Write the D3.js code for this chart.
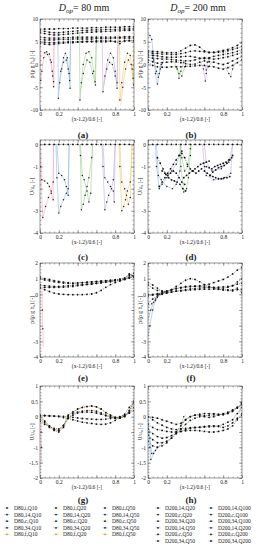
<!DOCTYPE html>
<html>
<head>
<meta charset="utf-8">
<script src="https://cdn.jsdelivr.net/npm/d3@7"></script>
<style>
  body { margin: 0; background: #fff; }
  svg { display: block; }
  text { font-family: "Liberation Serif", "DejaVu Serif", serif; fill: #222; }
</style>
</head>
<body>
<svg id="chart" width="262" height="550"></svg>
<script>
// ---- data ----
const xGrid = [0,0.05,0.1,0.15,0.2,0.25,0.3,0.35,0.4,0.45,0.5,0.55,0.6,0.65,0.7,0.75,0.8,0.85,0.9,0.95,1];

// (a) D80 pressure, dotted measured series on xGrid
const dotsA = [
  [7.7,7.8,7.8,7.8,7.9,7.9,7.9,8.0,8.0,8.0,8.0,8.1,8.1,8.1,8.2,8.2,8.2,8.2,8.3,8.3,8.3],
  [7.4,7.3,7.1,7.0,7.0,7.1,7.2,7.3,7.4,7.5,7.5,7.6,7.6,7.6,7.7,7.7,7.7,7.8,7.8,7.8,7.9],
  [7.0,6.8,6.6,6.5,6.5,6.6,6.7,6.8,6.9,7.0,7.1,7.1,7.2,7.2,7.3,7.3,7.4,7.4,7.5,7.5,7.6],
  [6.0,5.9,5.8,5.8,5.8,5.9,5.9,6.0,6.0,6.0,6.0,6.0,6.0,6.0,6.0,6.0,6.0,6.0,6.1,6.1,6.1],
  [5.5,5.4,5.4,5.4,5.5,5.5,5.5,5.6,5.6,5.6,5.6,5.6,5.7,5.7,5.7,5.7,5.8,5.8,5.8,5.8,5.8],
  [5.0,4.9,4.8,4.8,4.9,4.9,5.0,5.0,5.0,5.1,5.1,5.1,5.2,5.2,5.2,5.2,5.0,4.6,5.3,5.3,5.3],
  [4.6,4.5,4.4,4.5,4.6,4.7,4.8,4.8,4.9,4.9,5.0,5.0,5.0,5.0,5.0,5.1,5.1,5.1,5.1,5.2,5.2]
];
const linesA = [
  { s: "i",  pts: [[0.005,7.5],[0.008,-3.5],[0.02,-1.5],[0.04,1.5],[0.07,2.8],[0.1,2.3],[0.12,0.5],[0.135,-2.5],[0.145,-4.9],[0.15,6]] },
  { s: "i",  pts: [[0.02,2.0],[0.05,2.6],[0.08,2.2],[0.11,1.0],[0.13,-1.5],[0.145,-3.8],[0.15,7.2]] },
  { s: "14", pts: [[0.19,7.0],[0.195,-7.4],[0.21,-4.0],[0.23,-1.0],[0.25,1.5],[0.27,2.5],[0.29,1.5],[0.31,-2.0],[0.32,-5.2],[0.325,5.0]] },
  { s: "14", pts: [[0.2,-5.5],[0.22,-1.5],[0.25,0.5],[0.28,1.0],[0.3,-1.0],[0.315,-3.5],[0.325,6.0]] },
  { s: "c",  pts: [[0.42,7.2],[0.425,-7.8],[0.44,-4.0],[0.46,0.0],[0.49,2.5],[0.52,2.8],[0.55,1.5],[0.57,-1.5],[0.59,-4.5],[0.6,5.5]] },
  { s: "c",  pts: [[0.43,-6.0],[0.46,-2.0],[0.5,1.0],[0.53,0.5],[0.56,-2.0],[0.585,-3.8],[0.6,6.5]] },
  { s: "34", pts: [[0.66,7.0],[0.67,-6.0],[0.69,-2.5],[0.72,1.0],[0.75,2.5],[0.78,1.5],[0.8,-1.5],[0.82,-5.2],[0.83,5.5]] },
  { s: "34", pts: [[0.68,-4.5],[0.71,-1.0],[0.74,0.5],[0.77,0.0],[0.8,-2.5],[0.82,-4.0],[0.83,6.5]] },
  { s: "f",  pts: [[0.845,7.0],[0.85,-7.8],[0.87,-4.0],[0.9,0.5],[0.93,2.5],[0.96,2.0],[0.98,-1.0],[0.995,-4.5],[1.0,5.5]] },
  { s: "f",  pts: [[0.86,-9.0],[0.88,-5.0],[0.91,-1.0],[0.94,1.0],[0.97,0.0],[0.99,-3.0],[1.0,6.0]] }
];

// (b) D200 pressure
const dotsB = [
  [3.0,2.9,2.8,2.7,2.6,2.6,2.6,3.0,3.6,4.2,4.3,3.8,3.0,2.6,2.7,2.9,3.1,3.3,3.7,4.2,4.8],
  [2.6,2.5,2.4,2.3,2.3,2.2,2.2,2.4,2.6,2.9,3.0,2.9,2.8,2.7,2.6,2.7,2.8,3.0,3.3,3.6,4.0],
  [2.1,2.0,1.9,1.7,1.6,1.6,1.6,1.7,1.8,1.8,1.6,1.4,1.3,1.5,1.8,2.0,2.2,2.4,2.6,2.9,3.3],
  [1.6,1.4,1.3,1.2,1.2,1.1,1.0,0.9,0.8,0.8,1.0,1.3,1.5,1.3,1.2,1.3,1.5,1.7,2.0,2.3,2.6],
  [1.0,0.6,0.3,0.4,0.5,0.6,0.6,0.4,0.2,0.0,0.1,0.5,0.8,0.6,0.5,0.2,0.0,0.3,0.8,1.3,1.8],
  [0.5,-0.2,-0.5,-0.6,-0.6,-0.5,-0.5,-0.5,-0.4,-0.4,-0.3,-0.2,-0.2,-0.4,-0.5,-0.8,-1.0,-0.7,-0.2,0.4,1.0]
];
const linesB = [
  { s: "14", pts: [[0,6.6],[0.02,6.4],[0.04,5.5],[0.06,2.0],[0.08,-2.0],[0.1,-4.3],[0.12,-2.0],[0.14,0.0],[0.17,1.0]] },
  { s: "14", pts: [[0.03,3.0],[0.06,1.0],[0.09,-1.5],[0.11,-2.8],[0.13,-1.0],[0.16,0.5]] },
  { s: "c",  pts: [[0.28,0.5],[0.31,-1.0],[0.33,-3.0],[0.35,-1.5],[0.38,0.5],[0.42,1.0]] },
  { s: "c",  pts: [[0.3,-0.2],[0.33,-2.0],[0.36,-2.5],[0.39,-0.5],[0.42,0.2]] },
  { s: "34", pts: [[0.56,0.5],[0.59,-1.0],[0.61,-3.6],[0.62,-2.0],[0.63,0.5],[0.66,1.5]] },
  { s: "34", pts: [[0.6,0.2],[0.62,-1.2],[0.64,-0.5],[0.68,0.5]] },
  { s: "34", pts: [[0.82,-0.5],[0.86,-2.0],[0.88,-2.7],[0.9,-1.0],[0.93,0.5]] }
];

// (c) D80 velocity
const dotsC = [
  [0,0,0,0,0,0,0,0,0,0,0,0,0,0,0,0,0,0,0,0,0]
];
const linesC = [
  { s: "i",  pts: [[0.0,0],[0.005,-1.0],[0.03,-3.3],[0.06,-2.8],[0.09,-2.4],[0.12,-2.1],[0.14,-1.7],[0.145,0]] },
  { s: "i",  pts: [[0.005,0],[0.02,-1.6],[0.05,-1.65],[0.08,-1.75],[0.1,-1.9],[0.12,-2.2],[0.14,-2.5],[0.145,0]] },
  { s: "14", pts: [[0.17,0],[0.18,-1.5],[0.2,-3.1],[0.22,-2.8],[0.25,-2.5],[0.28,-2.2],[0.3,-2.0],[0.31,0]] },
  { s: "14", pts: [[0.18,0],[0.2,-1.3],[0.23,-1.4],[0.26,-1.6],[0.28,-1.9],[0.3,-2.3],[0.31,0]] },
  { s: "c",  pts: [[0.42,0],[0.43,-0.5],[0.44,-2.95],[0.46,-2.7],[0.48,-2.3],[0.5,-1.9],[0.52,-1.5],[0.55,-0.6],[0.56,0]] },
  { s: "c",  pts: [[0.43,0],[0.45,-1.4],[0.47,-1.6],[0.5,-2.1],[0.52,-2.6],[0.54,-2.2],[0.56,0]] },
  { s: "34", pts: [[0.66,0],[0.67,-1.0],[0.69,-2.95],[0.71,-2.6],[0.73,-2.3],[0.76,-2.0],[0.78,-1.6],[0.8,0]] },
  { s: "34", pts: [[0.67,0],[0.69,-1.5],[0.72,-1.7],[0.75,-1.9],[0.78,-2.1],[0.79,-2.6],[0.8,0]] },
  { s: "f",  pts: [[0.84,0],[0.85,-1.0],[0.87,-3.0],[0.89,-2.8],[0.91,-2.5],[0.93,-2.1],[0.96,-1.7],[0.98,0]] },
  { s: "f",  pts: [[0.85,0],[0.87,-1.7],[0.9,-2.0],[0.92,-2.3],[0.94,-2.7],[0.96,-2.4],[0.98,0]] }
];

// (d) D200 velocity
const dotsD = [
  [0,0,0,0,0,0,0,0,0,0,0,0,0,0,0,0,0,0,0,0,0],
  [[0.1,-0.6],[0.13,-0.85],[0.16,-1.1],[0.19,-1.35],[0.22,-1.5],[0.25,-1.6],[0.28,-1.65],[0.31,-1.7],[0.34,-1.8],[0.37,-2.0],[0.4,-2.1]],
  [[0.12,-1.9],[0.15,-1.7],[0.18,-1.5],[0.21,-1.3],[0.24,-1.1],[0.27,-0.9],[0.3,-0.7],[0.33,-0.5],[0.36,-0.3]],
  [[0.15,-1.2],[0.18,-1.3],[0.21,-1.4],[0.24,-1.3],[0.27,-1.2],[0.3,-1.3],[0.33,-1.5],[0.36,-1.7],[0.39,-1.8]],
  [[0.38,-1.5],[0.41,-1.4],[0.44,-1.3],[0.47,-1.2],[0.5,-1.1],[0.53,-1.0],[0.56,-0.9],[0.59,-0.85],[0.62,-0.8],[0.65,-0.75]],
  [[0.36,-0.4],[0.39,-0.6],[0.42,-0.9],[0.45,-1.1],[0.48,-1.2],[0.51,-1.3],[0.54,-1.2],[0.57,-1.1]],
  [[0.6,-1.2],[0.63,-1.3],[0.66,-1.4],[0.69,-1.45],[0.72,-1.5],[0.75,-1.55],[0.78,-1.55],[0.81,-1.5],[0.84,-1.5],[0.87,-1.45]],
  [[0.62,-1.0],[0.65,-1.05],[0.68,-1.1],[0.71,-1.0],[0.74,-0.95],[0.77,-0.9],[0.8,-0.85],[0.83,-0.8],[0.86,-0.7],[0.89,-0.6]],
  [[0.66,-1.4],[0.69,-1.25],[0.72,-1.15],[0.75,-1.05],[0.78,-1.0],[0.81,-0.95],[0.84,-0.85],[0.87,-0.7],[0.9,-0.5]]
];
const linesD = [
  { s: "14", pts: [[0.08,0],[0.09,-1.0],[0.12,-2.0],[0.15,-1.8],[0.2,-1.5],[0.25,-1.2],[0.3,-0.9],[0.34,-0.5],[0.35,0]] },
  { s: "14", pts: [[0.09,0],[0.11,-1.4],[0.14,-1.6],[0.2,-1.9],[0.26,-2.0],[0.3,-1.8],[0.34,-1.2],[0.35,0]] },
  { s: "c",  pts: [[0.34,0],[0.35,-1.0],[0.38,-2.15],[0.41,-2.0],[0.43,-1.5],[0.45,-0.5],[0.46,0]] },
  { s: "c",  pts: [[0.34,0],[0.36,-0.6],[0.39,-1.2],[0.42,-1.0],[0.45,-0.2],[0.46,0]] },
  { s: "34", pts: [[0.58,0],[0.6,-1.0],[0.62,-1.4],[0.7,-1.6],[0.8,-1.55],[0.88,-1.3],[0.9,0]] },
  { s: "34", pts: [[0.6,0],[0.62,-0.8],[0.68,-1.2],[0.78,-1.1],[0.86,-0.8],[0.9,0]] }
];

// (e) D80 pressure, second case
const dotsE = [
  [1.1,1.0,0.95,0.88,0.82,0.78,0.74,0.72,0.73,0.75,0.78,0.8,0.82,0.85,0.88,0.9,0.93,0.97,1.05,1.3,1.1],
  [1.0,0.92,0.86,0.8,0.76,0.72,0.7,0.7,0.72,0.74,0.76,0.78,0.8,0.82,0.85,0.88,0.92,0.96,1.0,1.2,1.35],
  [0.6,0.55,0.52,0.5,0.5,0.52,0.55,0.58,0.6,0.62,0.65,0.68,0.7,0.74,0.78,0.82,0.86,0.9,0.95,1.05,1.15],
  [0.45,0.45,0.44,0.44,0.45,0.46,0.48,0.5,0.55,0.58,0.62,0.65,0.7,0.74,0.78,0.82,0.88,0.92,0.98,1.1,1.2],
  [0.4,0.3,0.18,0.08,0.02,0.0,-0.02,-0.02,-0.02,-0.02,0.0,0.02,0.1,0.25,0.45,0.62,0.75,0.85,0.95,1.05,1.1]
];
const linesE = [
  { s: "i", pts: [[0.02,0.2],[0.025,-1.0],[0.03,-2.2],[0.035,-3.4]] },
  { s: "f", pts: [[0.9,1.0],[0.95,1.3],[0.98,1.2],[1.0,1.1]] }
];

// (f) D200 pressure, second case
const dotsF = [
  [0.75,0.6,0.4,0.2,0.15,0.3,0.5,0.7,0.9,1.0,0.95,0.8,0.62,0.5,0.4,0.33,0.28,0.25,0.22,0.4,0.1],
  [0.0,0.0,0.05,0.1,0.2,0.28,0.35,0.4,0.45,0.48,0.52,0.55,0.6,0.65,0.75,0.85,0.95,1.1,1.3,1.55,1.7],
  [0.6,0.4,0.25,0.2,0.22,0.3,0.38,0.45,0.5,0.52,0.52,0.5,0.48,0.45,0.42,0.4,0.4,0.45,0.55,0.8,1.0],
  [-0.1,-0.05,0.0,0.05,0.1,0.15,0.2,0.22,0.25,0.28,0.3,0.32,0.33,0.33,0.33,0.32,0.3,0.28,0.28,0.3,0.3],
  [-0.6,-0.3,-0.1,0.0,0.08,0.15,0.2,0.25,0.3,0.35,0.38,0.4,0.42,0.44,0.45,0.46,0.48,0.5,0.55,0.65,0.7]
];
const linesF = [
  { s: "14", pts: [[0,-2.7],[0.02,-2.0],[0.05,-1.0],[0.08,-0.4],[0.12,0.0],[0.18,0.15],[0.25,0.25]] },
  { s: "14", pts: [[0,-1.6],[0.03,-1.0],[0.06,-0.5],[0.1,-0.2],[0.15,0.05],[0.2,0.15]] },
  { s: "14", pts: [[0,-0.8],[0.04,-0.6],[0.08,-0.3],[0.12,0.0],[0.18,0.1]] }
];

// (g) D80 velocity, second case
const dotsG = [
  [0.0,-0.15,-0.3,-0.42,-0.45,-0.3,0.05,0.15,0.25,0.3,0.33,0.35,0.32,0.25,0.13,0.05,-0.02,-0.03,0.02,0.2,0.5],
  [-0.08,-0.2,-0.35,-0.45,-0.5,-0.35,-0.05,0.1,0.15,0.18,0.2,0.2,0.18,0.12,0.05,0.0,-0.05,-0.05,0.0,0.15,0.45],
  [0.05,0.04,0.03,0.02,0.0,-0.03,-0.06,-0.1,-0.14,-0.18,-0.2,-0.22,-0.24,-0.25,-0.24,-0.2,-0.12,-0.02,0.08,0.3,0.5],
  [0.03,0.03,0.02,0.02,0.02,0.01,0.0,-0.02,-0.04,-0.06,-0.07,-0.08,-0.09,-0.09,-0.08,-0.06,-0.03,0.0,0.05,0.12,0.2],
  [-0.15,-0.25,-0.32,-0.38,-0.4,-0.28,-0.05,0.05,0.12,0.14,0.15,0.14,0.12,0.08,0.03,-0.02,-0.05,-0.04,0.02,0.12,0.3]
];
const linesG = [
  { s: "i", pts: [[0.01,0.0],[0.012,-0.5],[0.015,-1.0],[0.02,-1.55]] },
  { s: "f", pts: [[0,0.0],[0.05,-0.15],[0.1,-0.3],[0.15,-0.42],[0.2,-0.45],[0.25,-0.3],[0.3,0.05],[0.35,0.15],[0.4,0.25],[0.45,0.3],[0.5,0.33],[0.55,0.35],[0.6,0.32],[0.65,0.25],[0.7,0.13],[0.75,0.05],[0.8,-0.02],[0.85,-0.03],[0.9,0.02],[0.95,0.2],[1,0.5]] }
];

// (h) D200 velocity, second case
const dotsH = [
  [0.0,-0.02,-0.05,-0.1,-0.15,-0.2,-0.25,-0.22,-0.1,0.0,0.05,0.08,0.1,0.1,0.1,0.08,0.06,0.1,0.17,0.28,0.4],
  [0.0,-0.1,-0.2,-0.28,-0.35,-0.4,-0.42,-0.4,-0.38,-0.36,-0.35,-0.34,-0.32,-0.3,-0.3,-0.32,-0.35,-0.3,-0.2,-0.05,0.1],
  [-0.25,-0.35,-0.42,-0.45,-0.48,-0.5,-0.5,-0.48,-0.46,-0.45,-0.45,-0.46,-0.48,-0.5,-0.5,-0.48,-0.45,-0.4,-0.3,-0.1,0.05],
  [-0.4,-0.55,-0.65,-0.7,-0.68,-0.62,-0.55,-0.48,-0.42,-0.38,-0.36,-0.35,-0.34,-0.33,-0.32,-0.3,-0.25,-0.18,-0.1,0.1,0.3],
  [-0.6,-0.75,-0.85,-0.85,-0.8,-0.7,-0.55,-0.4,-0.25,-0.12,-0.05,0.0,0.03,0.05,0.06,0.06,0.08,0.12,0.2,0.3,0.4],
  [-0.8,-0.95,-1.0,-0.95,-0.85,-0.7,-0.5,-0.3,-0.1,0.0,0.05,0.05,0.0,-0.02,0.0,0.05,0.1,0.15,0.22,0.3,0.45]
];
const linesH = [
  { s: "14", pts: [[0,0],[0.01,-0.5],[0.02,-1.0],[0.03,-1.4],[0.06,-1.2],[0.1,-1.0],[0.15,-0.9]] },
  { s: "14", pts: [[0,-0.2],[0.02,-0.7],[0.04,-1.2],[0.08,-1.1],[0.12,-0.95]] },
  { s: "c",  pts: [[0.33,-0.5],[0.36,-0.2],[0.38,0.0],[0.4,0.05]] },
  { s: "34", pts: [[0.97,0.1],[0.99,0.45],[1.0,0.6]] }
];

// legend columns
const legendD80Q10 = ["D80,i,Q10", "D80,14,Q10", "D80,c,Q10", "D80,34,Q10", "D80,f,Q10"];
const legendD80Q20 = ["D80,i,Q20", "D80,14,Q20", "D80,c,Q20", "D80,34,Q20", "D80,f,Q20"];
const legendD80Q50 = ["D80,i,Q50", "D80,14,Q50", "D80,c,Q50", "D80,34,Q50", "D80,f,Q50"];
const legendD200a = ["D200,14,Q20", "D200,c,Q20", "D200,34,Q20", "D200,14,Q50", "D200,c,Q50", "D200,34,Q50"];
const legendD200b = ["D200,14,Q100", "D200,c,Q100", "D200,34,Q100", "D200,14,Q200", "D200,c,Q200", "D200,34,Q200"];

const xTickLabels = [0, 0.2, 0.8, 1];

// ---- drawing ----
const lineColor = { i: "#f5b3c3", "14": "#9dbde6", c: "#a6d698", "34": "#c6b3e2", f: "#f3cd78" };
const P_LABEL = "p/(\u03c1 g h\u2080) [-]";
const U_LABEL = "U/u\u2080 [-]";

const svg = d3.select("#chart");
const cols = [[40, 134], [148, 242]];

const panels = [
  { tag: "(a)", col: 0, top: 19,  bottom: 110, dom: [-10, 10], major: [-10,-5,0,5,10], hide: [], minor: 1, ylab: P_LABEL, dots: dotsA, lines: linesA, tagY: 138 },
  { tag: "(b)", col: 1, top: 19,  bottom: 110, dom: [-10, 10], major: [-10,-5,0,5,10], hide: [], minor: 1, ylab: P_LABEL, dots: dotsB, lines: linesB, tagY: 138 },
  { tag: "(c)", col: 0, top: 140, bottom: 233, dom: [-4, 0.2], major: [-4,-3,-2,-1,0], hide: [-2], minor: 0.2, ylab: U_LABEL, dots: dotsC, lines: linesC, tagY: 260 },
  { tag: "(d)", col: 1, top: 140, bottom: 233, dom: [-4, 0.2], major: [-4,-3,-2,-1,0], hide: [-2], minor: 0.2, ylab: U_LABEL, dots: dotsD, lines: linesD, tagY: 260 },
  { tag: "(e)", col: 0, top: 263, bottom: 357, dom: [-4, 2], major: [-4,-3,-2,-1,0,1,2], hide: [-1,-2], minor: 0.2, ylab: P_LABEL, dots: dotsE, lines: linesE, tagY: 381 },
  { tag: "(f)", col: 1, top: 263, bottom: 357, dom: [-4, 2], major: [-4,-3,-2,-1,0,1,2], hide: [-1,-2], minor: 0.2, ylab: P_LABEL, dots: dotsF, lines: linesF, tagY: 381 },
  { tag: "(g)", col: 0, top: 386, bottom: 478, dom: [-2, 1], major: [-2,-1.5,-1,-0.5,0,0.5,1], hide: [-0.5], minor: 0.1, ylab: U_LABEL, dots: dotsG, lines: linesG, tagY: 503 },
  { tag: "(h)", col: 1, top: 386, bottom: 478, dom: [-2, 1], major: [-2,-1.5,-1,-0.5,0,0.5,1], hide: [-0.5], minor: 0.1, ylab: U_LABEL, dots: dotsH, lines: linesH, tagY: 503 }
];

// column titles
[["80", 84], ["200", 198]].forEach(([d, cx]) => {
  const t = svg.append("text").attr("x", cx).attr("y", 11).attr("text-anchor", "middle").attr("font-size", 10);
  t.append("tspan").attr("font-style", "italic").text("D");
  t.append("tspan").attr("font-style", "italic").attr("font-size", 7).attr("dy", 2).text("op");
  t.append("tspan").attr("dy", -2).text("= " + d + " mm");
});

const minorTicks = (dom, step) => {
  const out = [];
  for (let v = Math.ceil(dom[0] / step) * step; v <= dom[1] + 1e-9; v += step) out.push(+v.toFixed(4));
  return out;
};

panels.forEach(p => {
  const [xl, xr] = cols[p.col];
  const x = d3.scaleLinear().domain([0, 1]).range([xl, xr]);
  const y = d3.scaleLinear().domain(p.dom).range([p.bottom, p.top]);
  const g = svg.append("g");

  const clipId = "clip" + p.tag.replace(/\W/g, "");
  svg.append("clipPath").attr("id", clipId)
    .append("rect").attr("x", xl).attr("y", p.top).attr("width", xr - xl).attr("height", p.bottom - p.top);

  const plot = g.append("g").attr("clip-path", `url(#${clipId})`);
  const line = d3.line().x(d => x(d[0])).y(d => y(d[1]));

  // thin coloured model curves
  plot.selectAll("path.model")
    .data(p.lines)
    .join("path")
    .attr("class", "model")
    .attr("d", d => line(d.pts))
    .attr("fill", "none")
    .attr("stroke", d => lineColor[d.s])
    .attr("stroke-width", 0.65);

  plot.selectAll("circle.mp")
    .data(p.lines.flatMap(l => l.pts.slice(1, -1)))
    .join("circle")
    .attr("class", "mp")
    .attr("cx", d => x(d[0]))
    .attr("cy", d => y(d[1]))
    .attr("r", 0.75)
    .attr("fill", "#222");

  // dotted measurement series
  const series = p.dots.map(s => typeof s[0] === "number" ? s.map((v, i) => [xGrid[i], v]) : s);
  plot.selectAll("path.meas")
    .data(series)
    .join("path")
    .attr("class", "meas")
    .attr("d", line)
    .attr("fill", "none")
    .attr("stroke", "#444")
    .attr("stroke-width", 0.5)
    .attr("stroke-dasharray", "1.5,1");

  plot.selectAll("g.sd")
    .data(series)
    .join("g")
    .attr("class", "sd")
    .selectAll("circle")
    .data(d => d)
    .join("circle")
    .attr("cx", d => x(d[0]))
    .attr("cy", d => y(d[1]))
    .attr("r", 0.9)
    .attr("fill", "#111");

  // frame
  g.append("rect")
    .attr("x", xl).attr("y", p.top)
    .attr("width", xr - xl).attr("height", p.bottom - p.top)
    .attr("fill", "none").attr("stroke", "#555").attr("stroke-width", 0.6);

  const styleAxis = sel => {
    sel.select(".domain").remove();
    sel.selectAll("line").attr("stroke", "#555").attr("stroke-width", 0.5);
    sel.selectAll("text").attr("font-size", 5.5).attr("font-family", "Liberation Serif, serif").attr("fill", "#333");
  };
  const xMinor = minorTicks([0, 1], 0.05);
  const yMinor = minorTicks(p.dom, p.minor);

  g.append("g").attr("transform", `translate(0,${p.bottom})`)
    .call(d3.axisBottom(x).tickValues(xMinor).tickSize(-1.5).tickFormat(""))
    .call(styleAxis);
  g.append("g").attr("transform", `translate(0,${p.bottom})`)
    .call(d3.axisBottom(x).tickValues([0,0.2,0.4,0.6,0.8,1]).tickSize(-3).tickPadding(2.5)
      .tickFormat(v => xTickLabels.includes(v) ? String(v) : ""))
    .call(styleAxis);
  g.append("g").attr("transform", `translate(0,${p.top})`)
    .call(d3.axisTop(x).tickValues(xMinor).tickSize(-1.5).tickFormat(""))
    .call(styleAxis);
  g.append("g").attr("transform", `translate(0,${p.top})`)
    .call(d3.axisTop(x).tickValues([0,0.2,0.4,0.6,0.8,1]).tickSize(-3).tickFormat(""))
    .call(styleAxis);

  g.append("g").attr("transform", `translate(${xl},0)`)
    .call(d3.axisLeft(y).tickValues(yMinor).tickSize(-1.5).tickFormat(""))
    .call(styleAxis);
  g.append("g").attr("transform", `translate(${xl},0)`)
    .call(d3.axisLeft(y).tickValues(p.major).tickSize(-3).tickPadding(2)
      .tickFormat(v => p.hide.includes(v) ? "" : String(v)))
    .call(styleAxis);
  g.append("g").attr("transform", `translate(${xr},0)`)
    .call(d3.axisRight(y).tickValues(yMinor).tickSize(-1.5).tickFormat(""))
    .call(styleAxis);
  g.append("g").attr("transform", `translate(${xr},0)`)
    .call(d3.axisRight(y).tickValues(p.major).tickSize(-3).tickFormat(""))
    .call(styleAxis);

  // axis titles
  g.append("text")
    .attr("x", (xl + xr) / 2).attr("y", p.bottom + 10.5)
    .attr("text-anchor", "middle").attr("font-size", 5.5)
    .text("(x-1.2)/0.6 [-]");

  g.append("text")
    .attr("transform", `translate(${xl - 6},${(p.top + p.bottom) / 2}) rotate(-90)`)
    .attr("text-anchor", "middle").attr("font-size", 5.5)
    .text(p.ylab);

  g.append("text")
    .attr("x", (xl + xr) / 2 - 4).attr("y", p.tagY)
    .attr("text-anchor", "middle").attr("font-size", 9).attr("font-weight", "bold")
    .text(p.tag);
});

// ---- legend ----
const posColor = { i: "#f3a6b8", "14": "#8db3e2", c: "#95cf86", "34": "#bba5dc", f: "#f1c462" };
const legendCols = [
  { items: legendD80Q10, mx: 7 },
  { items: legendD80Q20, mx: 56 },
  { items: legendD80Q50, mx: 105 },
  { items: legendD200a, mx: 158 },
  { items: legendD200b, mx: 211 }
];
const rowY = d3.scaleLinear().domain([0, 1]).range([508, 514.6]);

legendCols.forEach(c => {
  const lg = svg.append("g");
  const row = lg.selectAll("g").data(c.items).join("g")
    .attr("transform", (d, i) => `translate(${c.mx},${rowY(i)})`);
  row.append("line")
    .attr("x1", -2.5).attr("x2", 2.5)
    .attr("stroke", d => posColor[d.split(",")[1]])
    .attr("stroke-width", 0.8);
  row.append("circle")
    .attr("r", 0.9)
    .attr("fill", d => d.split(",")[1] === "f" ? "#e0a030" : "#222");
  row.append("text")
    .attr("x", 7).attr("dy", "0.35em")
    .attr("font-size", 5.5)
    .text(d => d);
});
</script>
</body>
</html>
